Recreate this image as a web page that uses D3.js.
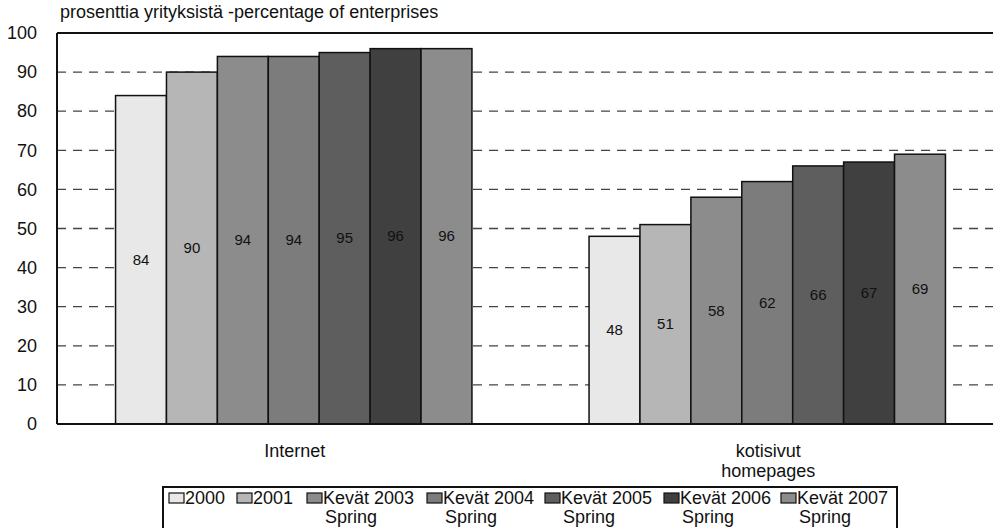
<!DOCTYPE html>
<html><head><meta charset="utf-8">
<script src="https://cdn.jsdelivr.net/npm/d3@7/dist/d3.min.js"></script>
<style>body{margin:0;background:#fff}svg{display:block;font-family:Arial,"Liberation Sans",sans-serif}</style>
</head><body><svg id="c" width="993" height="528"></svg>
<script>
const categories = ["Internet", "kotisivut\nhomepages"];
const seriesNames = ["2000", "2001", "Kevät 2003\nSpring", "Kevät 2004\nSpring", "Kevät 2005\nSpring", "Kevät 2006\nSpring", "Kevät 2007\nSpring"];
const internetValues = [84, 90, 94, 94, 95, 96, 96];
const homepageValues = [48, 51, 58, 62, 66, 67, 69];
const seriesColors = ["#e8e8e8", "#b6b6b6", "#8c8c8c", "#7c7c7c", "#5e5e5e", "#404040", "#8c8c8c"];
const yTicks = [0, 10, 20, 30, 40, 50, 60, 70, 80, 90, 100];
const titleText = "prosenttia yrityksistä -percentage of enterprises";

const valuesByCat = [internetValues, homepageValues];
const svg = d3.select("#c");
const L = 57, T = 33, B = 424, R = 1004;

const y = d3.scaleLinear().domain([0, 100]).range([B, T]);
const x0 = d3.scaleBand().domain(categories).range([L, R]).paddingInner(0).paddingOuter(0);
const x1 = d3.scaleBand().domain(d3.range(seriesNames.length)).range([0, x0.bandwidth()]).paddingOuter(1.15).paddingInner(0);

// gridlines
svg.append("g").selectAll("line").data(yTicks.filter(t => t > 0 && t < 100)).join("line")
  .attr("x1", L).attr("x2", R).attr("y1", d => y(d)).attr("y2", d => y(d))
  .attr("stroke", "#444").attr("stroke-width", 1.3).attr("stroke-dasharray", "9,7");

// y axis labels
const yAxis = d3.axisLeft(y).tickValues(yTicks).tickSize(0).tickPadding(20);
const ga = svg.append("g").attr("transform", `translate(${L},0)`).call(yAxis);
ga.select(".domain").remove();
ga.selectAll("text").attr("font-size", 18).attr("fill", "#111").attr("font-family", "Arial, 'Liberation Sans', sans-serif");

// bars
const groups = svg.append("g").selectAll("g").data(categories).join("g")
  .attr("transform", d => `translate(${x0(d)},0)`);
groups.each(function(cat, ci) {
  const g = d3.select(this);
  const vals = valuesByCat[ci];
  g.selectAll("rect").data(vals).join("rect")
    .attr("x", (d, i) => x1(i)).attr("width", x1.bandwidth())
    .attr("y", d => y(d)).attr("height", d => y(0) - y(d))
    .attr("fill", (d, i) => seriesColors[i]).attr("stroke", "#111").attr("stroke-width", 1.5);
  g.selectAll("text").data(vals).join("text")
    .attr("x", (d, i) => x1(i) + x1.bandwidth() / 2)
    .attr("y", d => (y(d) + y(0)) / 2 + 5)
    .attr("text-anchor", "middle").attr("font-size", 15).attr("fill", "#111")
    .text(d => d);
});

// frame
svg.append("line").attr("x1", L).attr("x2", R).attr("y1", T).attr("y2", T).attr("stroke", "#111").attr("stroke-width", 2);
svg.append("line").attr("x1", L).attr("x2", R).attr("y1", B).attr("y2", B).attr("stroke", "#111").attr("stroke-width", 2);
svg.append("line").attr("x1", L).attr("x2", L).attr("y1", T).attr("y2", B).attr("stroke", "#111").attr("stroke-width", 2);

// title
svg.append("text").attr("x", 60).attr("y", 18).attr("font-size", 18).attr("fill", "#111").text(titleText);

// category labels
categories.forEach(c => {
  const lines = c.split("\n");
  lines.forEach((ln, k) => {
    svg.append("text").attr("x", x0(c) + x0.bandwidth() / 2 + 1).attr("y", 457 + k * 20)
      .attr("text-anchor", "middle").attr("font-size", 18).attr("fill", "#111").text(ln);
  });
});

// legend
const legX = [169, 237, 307, 427, 545, 664, 781];
svg.append("rect").attr("x", 163).attr("y", 487).attr("width", 734).attr("height", 60)
  .attr("fill", "none").attr("stroke", "#111").attr("stroke-width", 2);
seriesNames.forEach((s, i) => {
  const lx = legX[i];
  svg.append("rect").attr("x", lx).attr("y", 493).attr("width", 15).attr("height", 10)
    .attr("fill", seriesColors[i]).attr("stroke", "#111").attr("stroke-width", 1.2);
  const parts = s.split("\n");
  svg.append("text").attr("x", lx + 16).attr("y", 504).attr("font-size", 18).attr("fill", "#111").text(parts[0]);
  if (parts[1]) {
    svg.append("text").attr("x", lx + 44).attr("y", 523).attr("text-anchor", "middle")
      .attr("font-size", 18).attr("fill", "#111").text(parts[1]);
  }
});
</script></body></html>
